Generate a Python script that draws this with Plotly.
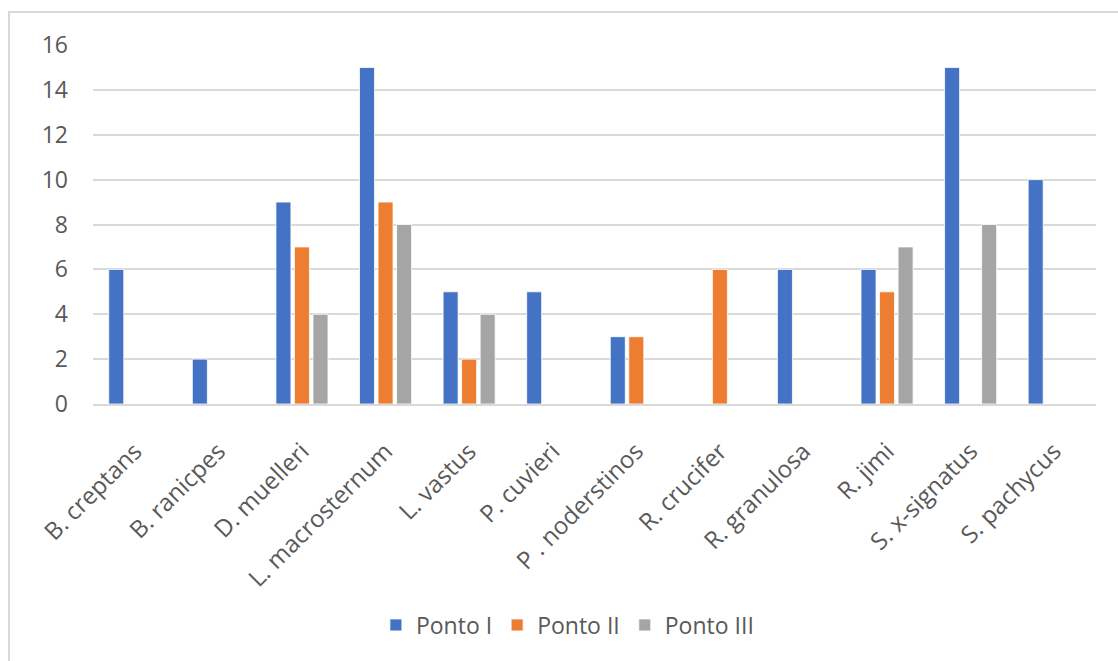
import plotly.graph_objects as go

categories = ["B. creptans", "B. ranicpes", "D. muelleri", "L. macrosternum", "L. vastus",
              "P. cuvieri", "P . noderstinos", "R. crucifer", "R. granulosa", "R. jimi",
              "S. x-signatus", "S. pachycus"]
ponto_i = [6, 2, 9, 15, 5, 5, 3, None, 6, 6, 15, 10]
ponto_ii = [None, None, 7, 9, 2, None, 3, 6, None, 5, None, None]
ponto_iii = [None, None, 4, 8, 4, None, None, None, None, 7, 8, None]
y_ticks = [0, 2, 4, 6, 8, 10, 12, 14, 16]

series = [("Ponto I", ponto_i, "#4472C4"),
          ("Ponto II", ponto_ii, "#ED7D31"),
          ("Ponto III", ponto_iii, "#A5A5A5")]

fig = go.Figure()
for name, vals, col in series:
    fig.add_trace(go.Bar(x=categories, y=vals, name=name,
                         marker=dict(color=col, line=dict(color="white", width=0.8))))

W, H = 1118, 661
L, R, T, B = 93, 22, 45, 257
pw, ph = W - L - R, H - T - B

fig.update_layout(
    width=W, height=H,
    margin=dict(l=L, r=R, t=T, b=B, autoexpand=False),
    paper_bgcolor="white", plot_bgcolor="white",
    barmode="group", bargap=0.335, bargroupgap=0.19,
    font=dict(family="Open Sans", size=23, color="#595959"),
    showlegend=True,
    legend=dict(orientation="h", x=0.473, xanchor="center", y=(404 - 625) / ph,
                yanchor="middle", font=dict(size=23, color="#595959"),
                itemwidth=30, traceorder="normal"),
    xaxis=dict(type="category", tickangle=-45, showgrid=False, showline=True,
               linecolor="#D9D9D9", linewidth=1.5, ticks="", automargin=False,
               ticklabelstandoff=22, tickfont=dict(size=24)),
    yaxis=dict(range=[0, 16], tickvals=y_ticks, showgrid=True, gridcolor="#D9D9D9",
               gridwidth=1.5, zeroline=False, showline=False, ticks="",
               automargin=False, ticklabelstandoff=24, tickfont=dict(size=23)),
    shapes=[dict(type="rect", xref="paper", yref="paper",
                 x0=(9 - L) / pw, x1=(1125 - L) / pw,
                 y0=(404 - 680) / ph, y1=1 + (T - 12) / ph,
                 line=dict(color="#D9D9D9", width=2), fillcolor="rgba(0,0,0,0)",
                 layer="below")],
)

fig.write_html("out.html")
